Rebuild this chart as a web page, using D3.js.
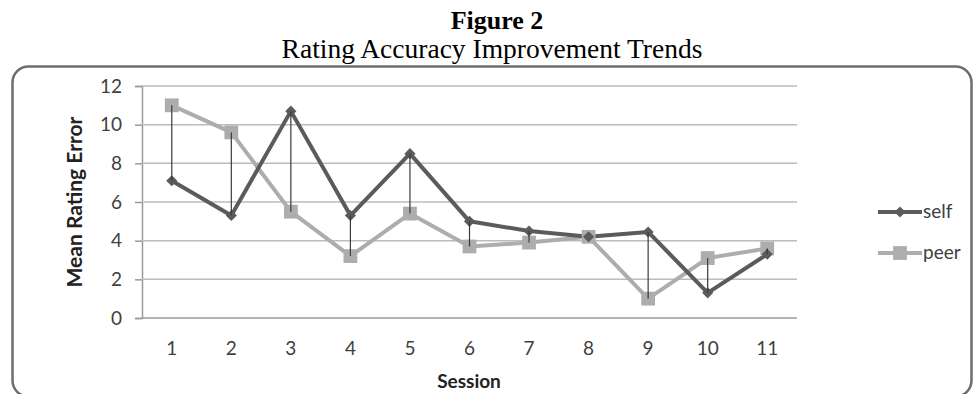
<!DOCTYPE html>
<meta charset="utf-8">
<style>
body { margin: 0; background: #fff; }
svg { display: block; }
.title { font-family: "Liberation Serif", "Times New Roman", serif; fill: #000; }
.tick text, .lbl { font-family: Lato, "Open Sans", sans-serif; fill: #404040; }
.axtitle { font-family: Lato, "Open Sans", sans-serif; font-weight: bold; fill: #222; }
</style>
<body>
<svg width="974" height="394"></svg>
<script src="https://cdn.jsdelivr.net/npm/d3@7"></script>
<script>

// values
var sessions = [1, 2, 3, 4, 5, 6, 7, 8, 9, 10, 11];
var selfErr = [7.1, 5.3, 10.7, 5.3, 8.5, 5.0, 4.5, 4.2, 4.45, 1.3, 3.3];
var peerErr = [11.0, 9.6, 5.5, 3.2, 5.4, 3.7, 3.9, 4.2, 1.0, 3.1, 3.6];
var yTicks = [0, 2, 4, 6, 8, 10, 12];
var seriesNames = ["self", "peer"];

var selfColor = "#5b5b5b",
    peerColor = "#adadad";

var svg = d3.select("svg");

// title lines
svg.append("text").attr("class", "title")
    .attr("x", 497).attr("y", 29)
    .attr("text-anchor", "middle")
    .style("font-size", "26px").style("font-weight", "bold")
    .text("Figure 2");
svg.append("text").attr("class", "title")
    .attr("x", 492).attr("y", 58)
    .attr("text-anchor", "middle")
    .style("font-size", "27.5px")
    .text("Rating Accuracy Improvement Trends");

// chart frame - the bottom edge runs off the picture, only the corners show
svg.append("rect")
    .attr("x", 12.5).attr("y", 66.5)
    .attr("width", 959).attr("height", 330)
    .attr("rx", 16).attr("ry", 16)
    .attr("fill", "none")
    .attr("stroke", "#6e6e6e")
    .attr("stroke-width", 2.5);

var x = d3.scaleBand().domain(sessions).range([142, 797]);
var y = d3.scaleLinear().domain([0, 12]).range([318, 86]);
var cx = d => x(d) + x.bandwidth() / 2;

// gridlines + y axis
var yAxis = svg.append("g")
    .attr("transform", "translate(142,0)")
    .call(d3.axisLeft(y).tickValues(yTicks).tickSize(7).tickPadding(13));
yAxis.select(".domain").attr("stroke", "#9a9a9a").attr("stroke-width", 1.5);
yAxis.selectAll(".tick line").attr("stroke", "#9a9a9a").attr("stroke-width", 1.5);
yAxis.selectAll(".tick text").style("font-size", "19px").attr("fill", "#404040");

svg.append("g")
  .selectAll("line")
  .data(yTicks)
  .enter().append("line")
    .attr("x1", 142).attr("x2", 797)
    .attr("y1", d => y(d)).attr("y2", d => y(d))
    .attr("stroke", d => d === 0 ? "#9a9a9a" : "#bcbcbc")
    .attr("stroke-width", 1.5);

// x axis labels
var xAxis = svg.append("g")
    .attr("transform", "translate(0,318)")
    .call(d3.axisBottom(x).tickSize(0).tickPadding(24));
xAxis.select(".domain").remove();
xAxis.selectAll(".tick text").style("font-size", "19px").attr("fill", "#404040");

// axis titles
svg.append("text").attr("class", "axtitle")
    .attr("transform", "translate(82,202) rotate(-90)")
    .attr("text-anchor", "middle")
    .style("font-size", "21px")
    .text("Mean Rating Error");
svg.append("text").attr("class", "axtitle")
    .attr("x", 469).attr("y", 388)
    .attr("text-anchor", "middle")
    .style("font-size", "19px")
    .text("Session");

var line = d3.line().x((d, i) => cx(sessions[i])).y(d => y(d));

// peer series
svg.append("path").datum(peerErr)
    .attr("d", line)
    .attr("fill", "none")
    .attr("stroke", peerColor)
    .attr("stroke-width", 4)
    .attr("stroke-linejoin", "round");

// self series
svg.append("path").datum(selfErr)
    .attr("d", line)
    .attr("fill", "none")
    .attr("stroke", selfColor)
    .attr("stroke-width", 4)
    .attr("stroke-linejoin", "round");

var square = d3.symbol(d3.symbolSquare, 190);
var diamond = d3.symbol(d3.symbolSquare, 62);

svg.append("g")
  .selectAll("path")
  .data(peerErr)
  .enter().append("path")
    .attr("d", square)
    .attr("transform", (d, i) => `translate(${cx(sessions[i])},${y(d)})`)
    .attr("fill", peerColor);

svg.append("g")
  .selectAll("path")
  .data(selfErr)
  .enter().append("path")
    .attr("d", diamond)
    .attr("transform", (d, i) => `translate(${cx(sessions[i])},${y(d)}) rotate(45)`)
    .attr("fill", selfColor);

// high-low lines
svg.append("g")
  .selectAll("line")
  .data(sessions)
  .enter().append("line")
    .attr("x1", d => cx(d)).attr("x2", d => cx(d))
    .attr("y1", (d, i) => y(selfErr[i]))
    .attr("y2", (d, i) => y(peerErr[i]))
    .attr("stroke", "#3a3a3a")
    .attr("stroke-width", 1.2);

// legend
var legend = svg.append("g")
  .selectAll("g")
  .data(seriesNames)
  .enter().append("g")
    .attr("transform", (d, i) => `translate(878,${212 + i * 41})`);
legend.append("line")
    .attr("x1", 0).attr("x2", 44)
    .attr("stroke", (d, i) => i ? peerColor : selfColor)
    .attr("stroke-width", 4);
legend.append("path")
    .attr("d", (d, i) => i ? square() : diamond())
    .attr("transform", (d, i) => i ? "translate(22,0)" : "translate(22,0) rotate(45)")
    .attr("fill", (d, i) => i ? peerColor : selfColor);
legend.append("text").attr("class", "lbl")
    .attr("x", 45).attr("y", 6)
    .style("font-size", "19px")
    .text(d => d);

</script>
</body>
